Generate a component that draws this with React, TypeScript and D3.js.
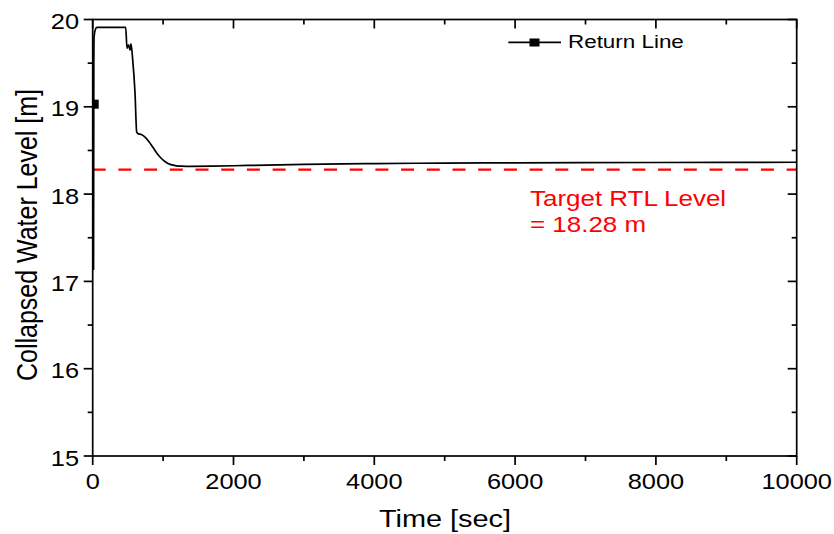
import React from "react";
import * as d3 from "d3";

const timeSec = [12, 16, 20, 35, 60, 150, 300, 469, 487, 509, 530, 544, 568, 601, 625, 648, 690, 740, 800, 860, 920, 980, 1040, 1100, 1170, 1260, 1400, 1700, 2200, 3000, 4000, 5000, 6000, 8000, 10000];
const waterLevel = [17.13, 19.5, 19.8, 19.88, 19.91, 19.91, 19.91, 19.91, 19.67, 19.71, 19.65, 19.72, 19.54, 19.16, 18.71, 18.69, 18.683, 18.655, 18.6, 18.53, 18.46, 18.405, 18.365, 18.34, 18.327, 18.32, 18.318, 18.32, 18.328, 18.34, 18.35, 18.355, 18.358, 18.362, 18.365];
const markerTime = [14];
const markerLevel = [19.03];
const targetLevel = 18.28;
const xTicks = [0, 2000, 4000, 6000, 8000, 10000];
const xMinorTicks = [1000, 3000, 5000, 7000, 9000];
const yTicks = [15, 16, 17, 18, 19, 20];
const yMinorTicks = [15.5, 16.5, 17.5, 18.5, 19.5];

const W = 834, H = 534;
const L = 92.7, R = 796.7, T = 19.5, B = 456;
const SX = 1.18;
const FONT = "'Liberation Sans', Arial, sans-serif";

export default function App() {
  const x = d3.scaleLinear().domain([0, 10000]).range([L, R]);
  const y = d3.scaleLinear().domain([15, 20]).range([B, T]);
  const line = d3.line<number>().x((_, i) => x(timeSec[i])).y((d) => y(d)).curve(d3.curveMonotoneX);
  const sw = 1.7;
  return (
    <svg width={W} height={H} style={{ position: "absolute", left: 0, top: 0, background: "#fff" }} fontFamily={FONT}>
      <defs>
        <clipPath id="plotclip">
          <rect x={L} y={T} width={R - L} height={B - T} />
        </clipPath>
      </defs>
      <rect x={0} y={0} width={W} height={H} fill="#fff" />
      <line x1={L} x2={R} y1={y(targetLevel)} y2={y(targetLevel)} stroke="#ff0000" strokeWidth={2.2} strokeDasharray="13,12.7" />
      <g clipPath="url(#plotclip)">
        <path d={line(waterLevel) || ""} fill="none" stroke="#000" strokeWidth={sw} strokeLinejoin="round" />
        {markerTime.map((t, i) => (
          <rect key={i} x={x(t) - 5} y={y(markerLevel[i]) - 4.5} width={10} height={9} fill="#000" />
        ))}
      </g>
      <rect x={L} y={T} width={R - L} height={B - T} fill="none" stroke="#000" strokeWidth={sw} />
      {xTicks.map((t) => (
        <g key={"xt" + t}>
          <line x1={x(t)} x2={x(t)} y1={B} y2={B + 9} stroke="#000" strokeWidth={sw} />
          <line x1={x(t)} x2={x(t)} y1={T} y2={T + 9} stroke="#000" strokeWidth={sw} />
          <text transform={`translate(${x(t)},489) scale(${SX},1)`} textAnchor="middle" fontSize={21.5}>{t}</text>
        </g>
      ))}
      {xMinorTicks.map((t) => (
        <g key={"xm" + t}>
          <line x1={x(t)} x2={x(t)} y1={B} y2={B + 5} stroke="#000" strokeWidth={sw} />
          <line x1={x(t)} x2={x(t)} y1={T} y2={T + 5} stroke="#000" strokeWidth={sw} />
        </g>
      ))}
      {yTicks.map((v) => (
        <g key={"yt" + v}>
          <line x1={L - 9} x2={L} y1={y(v)} y2={y(v)} stroke="#000" strokeWidth={sw} />
          <line x1={R - 9} x2={R} y1={y(v)} y2={y(v)} stroke="#000" strokeWidth={sw} />
          <text transform={`translate(79,${y(v) + 9.5}) scale(${SX},1)`} textAnchor="end" fontSize={21.5}>{v}</text>
        </g>
      ))}
      {yMinorTicks.map((v) => (
        <g key={"ym" + v}>
          <line x1={L - 5} x2={L} y1={y(v)} y2={y(v)} stroke="#000" strokeWidth={sw} />
          <line x1={R - 5} x2={R} y1={y(v)} y2={y(v)} stroke="#000" strokeWidth={sw} />
        </g>
      ))}
      <text transform={`translate(445,527) scale(${SX},1)`} textAnchor="middle" fontSize={24.5}>Time [sec]</text>
      <text transform={`translate(37,235) scale(${SX},1) rotate(-90)`} textAnchor="middle" fontSize={25}>Collapsed Water Level [m]</text>
      <line x1={508.3} x2={561} y1={42.3} y2={42.3} stroke="#000" strokeWidth={sw} />
      <rect x={529.5} y={38.5} width={10} height={8} fill="#000" />
      <text transform={`translate(568,47.5) scale(${SX},1)`} fontSize={19}>Return Line</text>
      <text transform={`translate(530,206) scale(${SX},1)`} fontSize={22} fill="#ff0000">Target RTL Level</text>
      <text transform={`translate(530,231.5) scale(${SX},1)`} fontSize={22} fill="#ff0000">= 18.28 m</text>
    </svg>
  );
}
